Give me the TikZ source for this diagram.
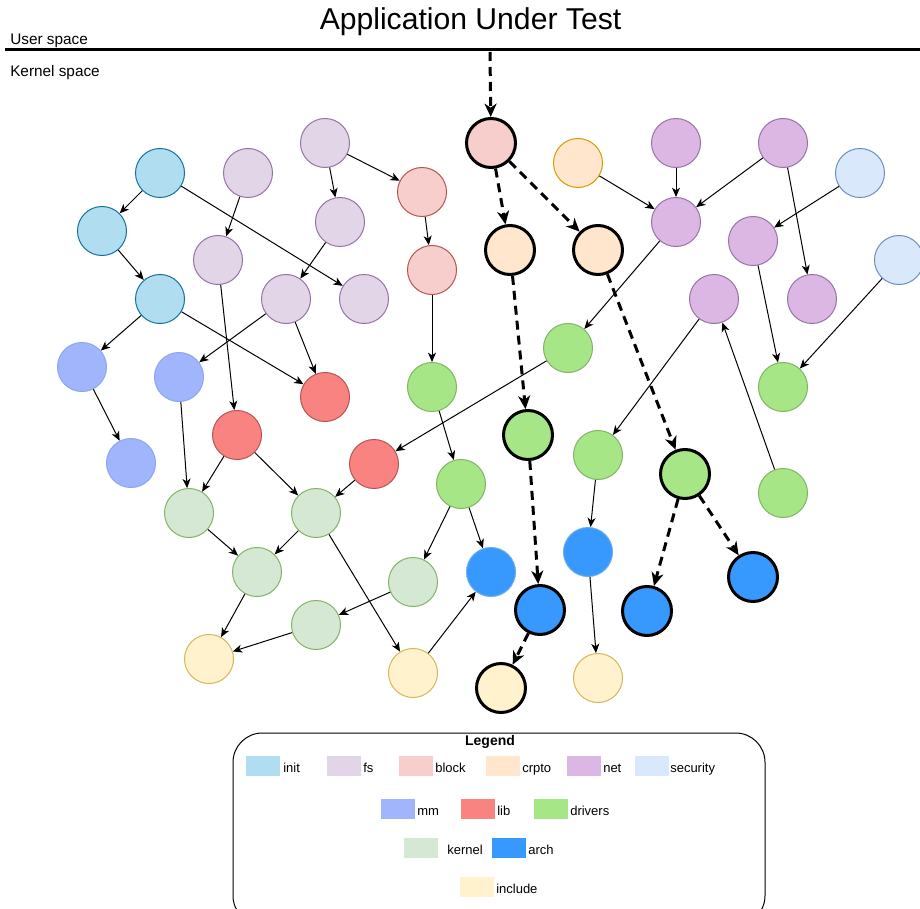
\documentclass[tikz,border=0pt]{standalone}
\usepackage{fontspec}
\setmainfont{Liberation Sans}
\usetikzlibrary{arrows.meta}

% subsystem colours: fill / stroke
\definecolor{initF}{HTML}{B1DDF0}\definecolor{initS}{HTML}{10739E}
\definecolor{fsF}{HTML}{E1D5E7}\definecolor{fsS}{HTML}{9673A6}
\definecolor{blockF}{HTML}{F8CECC}\definecolor{blockS}{HTML}{B85450}
\definecolor{cryptoF}{HTML}{FFE6CC}\definecolor{cryptoS}{HTML}{D79B00}
\definecolor{netF}{HTML}{DDB7E3}\definecolor{netS}{HTML}{9673A6}
\definecolor{secF}{HTML}{DAE8FC}\definecolor{secS}{HTML}{6C8EBF}
\definecolor{mmF}{HTML}{A0B5FB}\definecolor{mmS}{HTML}{8CA5F0}
\definecolor{libF}{HTML}{F88381}\definecolor{libS}{HTML}{B85450}
\definecolor{drvF}{HTML}{A6E686}\definecolor{drvS}{HTML}{82B366}
\definecolor{kernF}{HTML}{D5E8D4}\definecolor{kernS}{HTML}{82B366}
\definecolor{archF}{HTML}{3799FD}\definecolor{archS}{HTML}{6AAEF0}
\definecolor{incF}{HTML}{FFF2CC}\definecolor{incS}{HTML}{D6B656}

\tikzset{
  mod/.style={circle, minimum size=36.75pt, inner sep=0pt, line width=0.75pt},
  cInit/.style={mod, fill=initF, draw=initS},
  cFs/.style={mod, fill=fsF, draw=fsS},
  cBlock/.style={mod, fill=blockF, draw=blockS},
  cCrypto/.style={mod, fill=cryptoF, draw=cryptoS},
  cNet/.style={mod, fill=netF, draw=netS},
  cSec/.style={mod, fill=secF, draw=secS},
  cMm/.style={mod, fill=mmF, draw=mmS},
  cLib/.style={mod, fill=libF, draw=libS},
  cDrv/.style={mod, fill=drvF, draw=drvS},
  cKern/.style={mod, fill=kernF, draw=kernS},
  cArch/.style={mod, fill=archF, draw=archS},
  cInc/.style={mod, fill=incF, draw=incS},
  hot/.style={draw=black, line width=2.25pt},
  edge/.style={-{Stealth[length=7pt,width=6pt,inset=2pt]}, line width=0.75pt},
  hotedge/.style={-{Stealth[length=10pt,width=9pt,inset=3pt]}, line width=2.25pt,
                  dash pattern=on 6.75pt off 4.5pt},
  swatch/.style={minimum width=25.5pt, minimum height=15pt, inner sep=0pt},
  key/.style={anchor=base west, inner sep=0pt, font=\fontsize{9.75pt}{11pt}\selectfont},
}

\begin{document}
\begin{tikzpicture}[x=0.75pt, y=-0.75pt]
\useasboundingbox (0,0) rectangle (920,909);

% header: user/kernel boundary
\node[anchor=base, inner sep=0pt, font=\fontsize{22.6pt}{25pt}\selectfont] (title) at (470.5,30) {Application Under Test};
\node[anchor=base west, inner sep=0pt, font=\fontsize{11.5pt}{13pt}\selectfont] (user) at (10,45) {User space};
\node[anchor=base west, inner sep=0pt, font=\fontsize{11.5pt}{13pt}\selectfont] (kern) at (10,76.5) {Kernel space};
\coordinate (bl) at (5,50);
\coordinate (br) at (920,50);
\draw[line width=2.25pt] (bl) -- (br);
\coordinate (app) at (490,52);

% init
\node[cInit] (i1) at (160,173) {};
\node[cInit] (i2) at (102,231) {};
\node[cInit] (i3) at (160,299) {};
% fs
\node[cFs] (f0) at (325,143) {};
\node[cFs] (f1) at (248,173) {};
\node[cFs] (f2) at (340,222) {};
\node[cFs] (f3) at (218,260) {};
\node[cFs] (f4) at (286,299) {};
\node[cFs] (f5) at (364,299) {};
% block
\node[cBlock] (b1) at (422,192) {};
\node[cBlock] (b2) at (432,270) {};
\node[cBlock, hot] (bh) at (491,143) {};
% crypto
\node[cCrypto] (c1) at (578,163) {};
\node[cCrypto, hot] (ch1) at (510,250) {};
\node[cCrypto, hot] (ch2) at (598,250) {};
% net
\node[cNet] (n1) at (676,143) {};
\node[cNet] (n2) at (783,143) {};
\node[cNet] (n3) at (676,222) {};
\node[cNet] (n4) at (753,241) {};
\node[cNet] (n5) at (714,299) {};
\node[cNet] (n6) at (812,299) {};
% security
\node[cSec] (s1) at (860,173) {};
\node[cSec] (s2) at (899,260) {};
% mm
\node[cMm] (m1) at (82,367) {};
\node[cMm] (m2) at (179,377) {};
\node[cMm] (m3) at (131,463) {};
% lib
\node[cLib] (l1) at (325,397) {};
\node[cLib] (l2) at (237,435) {};
\node[cLib] (l3) at (374,464) {};
% drivers
\node[cDrv] (d1) at (432,387) {};
\node[cDrv] (d2) at (568,348) {};
\node[cDrv] (d3) at (783,387) {};
\node[cDrv, hot] (dh1) at (528,435) {};
\node[cDrv] (d5) at (461,484) {};
\node[cDrv] (d6) at (598,455) {};
\node[cDrv, hot] (dh2) at (685,474) {};
\node[cDrv] (d7) at (783,493) {};
% kernel
\node[cKern] (k1) at (189,513) {};
\node[cKern] (k2) at (316,513) {};
\node[cKern] (k3) at (257,572) {};
\node[cKern] (k4) at (413,582) {};
\node[cKern] (k5) at (316,625) {};
% arch
\node[cArch] (a1) at (491,572) {};
\node[cArch, hot] (ah1) at (540,610) {};
\node[cArch] (a2) at (588,552) {};
\node[cArch, hot] (ah2) at (753,577) {};
\node[cArch, hot] (ah3) at (647,611) {};
% include
\node[cInc] (u1) at (209,659) {};
\node[cInc] (u2) at (413,673) {};
\node[cInc, hot] (uh) at (501,688) {};
\node[cInc] (u3) at (598,678) {};

% dependencies
\draw[edge] (i1) -- (i2);
\draw[edge] (i1) -- (f5);
\draw[edge] (i2) -- (i3);
\draw[edge] (i3) -- (m1);
\draw[edge] (i3) -- (l1);
\draw[edge] (f1) -- (f3);
\draw[edge] (f0) -- (f2);
\draw[edge] (f0) -- (b1);
\draw[edge] (f2) -- (f4);
\draw[edge] (f4) -- (m2);
\draw[edge] (f4) -- (l1);
\draw[edge] (f3) -- (l2);
\draw[edge] (b1) -- (b2);
\draw[edge] (b2) -- (d1);
\draw[edge] (m1) -- (m3);
\draw[edge] (m2) -- (k1);
\draw[edge] (l2) -- (k1);
\draw[edge] (l2) -- (k2);
\draw[edge] (l3) -- (k2);
\draw[edge] (d2) -- (l3);
\draw[edge] (d1) -- (d5);
\draw[edge] (k1) -- (k3);
\draw[edge] (k2) -- (k3);
\draw[edge] (k2) -- (u2);
\draw[edge] (d5) -- (k4);
\draw[edge] (d5) -- (a1);
\draw[edge] (k4) -- (k5);
\draw[edge] (k3) -- (u1);
\draw[edge] (k5) -- (u1);
\draw[edge] (u2) -- (a1);
\draw[edge] (c1) -- (n3);
\draw[edge] (n1) -- (n3);
\draw[edge] (n2) -- (n3);
\draw[edge] (n2) -- (n6);
\draw[edge] (s1) -- (n4);
\draw[edge] (n3) -- (d2);
\draw[edge] (n4) -- (d3);
\draw[edge] (s2) -- (d3);
\draw[edge] (n5) -- (d6);
\draw[edge] (d7) -- (n5);
\draw[edge] (d6) -- (a2);
\draw[edge] (a2) -- (u3);

% call path of the application
\draw[hotedge] (app) -- (bh);
\draw[hotedge] (bh) -- (ch1);
\draw[hotedge] (bh) -- (ch2);
\draw[hotedge] (ch1) -- (dh1);
\draw[hotedge] (ch2) -- (dh2);
\draw[hotedge] (dh1) -- (ah1);
\draw[hotedge] (ah1) -- (uh);
\draw[hotedge] (dh2) -- (ah3);
\draw[hotedge] (dh2) -- (ah2);

% legend
\draw[line width=0.75pt, rounded corners=22pt] (233,733) rectangle (765,925);
\node[font=\bfseries\fontsize{10.5pt}{12pt}\selectfont, inner sep=0pt] (lt) at (490,742) {Legend};

\node[swatch, fill=initF] (sw1) at (263,766) {};   \node[key] (t1) at (283,772) {init};
\node[swatch, fill=fsF] (sw2) at (344,766) {};     \node[key] (t2) at (363,772) {fs};
\node[swatch, fill=blockF] (sw3) at (416,766) {};  \node[key] (t3) at (435,772) {block};
\node[swatch, fill=cryptoF] (sw4) at (503,766) {}; \node[key] (t4) at (522,772) {crpto};
\node[swatch, fill=netF] (sw5) at (584,766) {};    \node[key] (t5) at (603,772) {net};
\node[swatch, fill=secF] (sw6) at (651.5,766) {};  \node[key] (t6) at (670,772) {security};

\node[swatch, fill=mmF] (sw7) at (398,809) {};     \node[key] (t7) at (417,815) {mm};
\node[swatch, fill=libF] (sw8) at (478,809) {};    \node[key] (t8) at (497,815) {lib};
\node[swatch, fill=drvF] (sw9) at (551,809) {};    \node[key] (t9) at (570,815) {drivers};

\node[swatch, fill=kernF] (sw10) at (421,848) {};  \node[key] (t10) at (447,854) {kernel};
\node[swatch, fill=archF] (sw11) at (509,848) {};  \node[key] (t11) at (528,854) {arch};

\node[swatch, fill=incF] (sw12) at (477,887) {};   \node[key] (t12) at (496,893) {include};
\end{tikzpicture}
\end{document}
